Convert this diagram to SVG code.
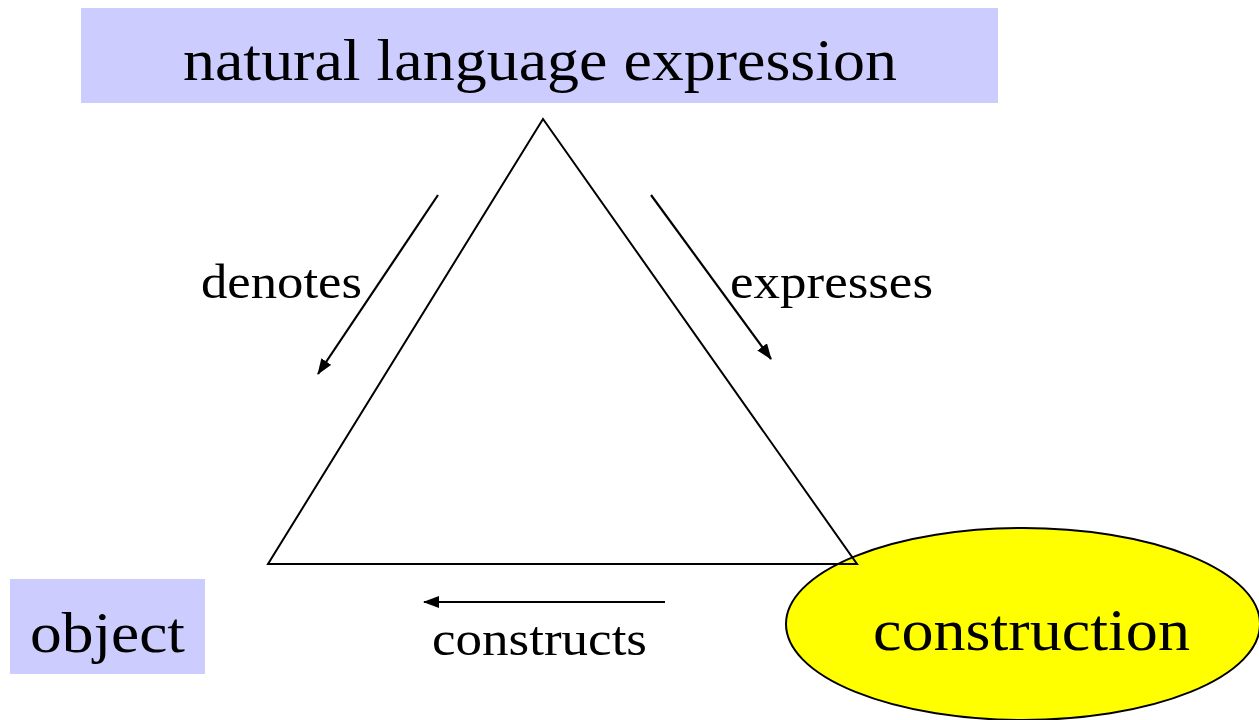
<svg xmlns="http://www.w3.org/2000/svg" width="1259" height="720" viewBox="0 0 1259 720">
<style>
.t{font-family:"Liberation Serif","Times New Roman",serif;fill:#000}
.box{fill:#ccccff}
.ln{stroke:#000;stroke-width:2.2;fill:none}
</style>
<defs>
<marker id="ah2" markerWidth="16" markerHeight="12" refX="15" refY="6" orient="auto" markerUnits="userSpaceOnUse" viewBox="0 0 16 12">
<path d="M0,0 L16,6 L0,12 z" fill="#000"/>
</marker>
</defs>
<rect width="1259" height="720" fill="#fff"/>
<g id="nle">
<rect class="box" x="81" y="8" width="917" height="95"/>
<text class="t" x="540" y="80" font-size="60" text-anchor="middle" textLength="714" lengthAdjust="spacingAndGlyphs">natural language expression</text>
</g>
<g id="object">
<rect class="box" x="10" y="579" width="195" height="95"/>
<text class="t" x="107.5" y="652" font-size="58" text-anchor="middle" textLength="155" lengthAdjust="spacingAndGlyphs">object</text>
</g>
<g id="construction">
<ellipse cx="1023" cy="624" rx="237" ry="96" fill="#ffff00" stroke="#000" stroke-width="2"/>
<text class="t" x="1031.5" y="650" font-size="60" text-anchor="middle" textLength="317" lengthAdjust="spacingAndGlyphs">construction</text>
</g>
<g id="triangle">
<polygon points="543,119 268,564 857,564" fill="none" stroke="#000" stroke-width="2"/>
</g>
<g id="connectors">
<line class="ln" x1="438" y1="195" x2="318" y2="374" marker-end="url(#ah2)"/>
<line class="ln" x1="651" y1="195" x2="771" y2="359" marker-end="url(#ah2)"/>
<line class="ln" x1="665" y1="602" x2="424" y2="602" marker-end="url(#ah2)"/>
<text class="t" x="281.5" y="298" font-size="48" text-anchor="middle" textLength="161" lengthAdjust="spacingAndGlyphs">denotes</text>
<text class="t" x="831.5" y="298" font-size="48" text-anchor="middle" textLength="203" lengthAdjust="spacingAndGlyphs">expresses</text>
<text class="t" x="539.5" y="655" font-size="48" text-anchor="middle" textLength="215" lengthAdjust="spacingAndGlyphs">constructs</text>
</g>
</svg>
